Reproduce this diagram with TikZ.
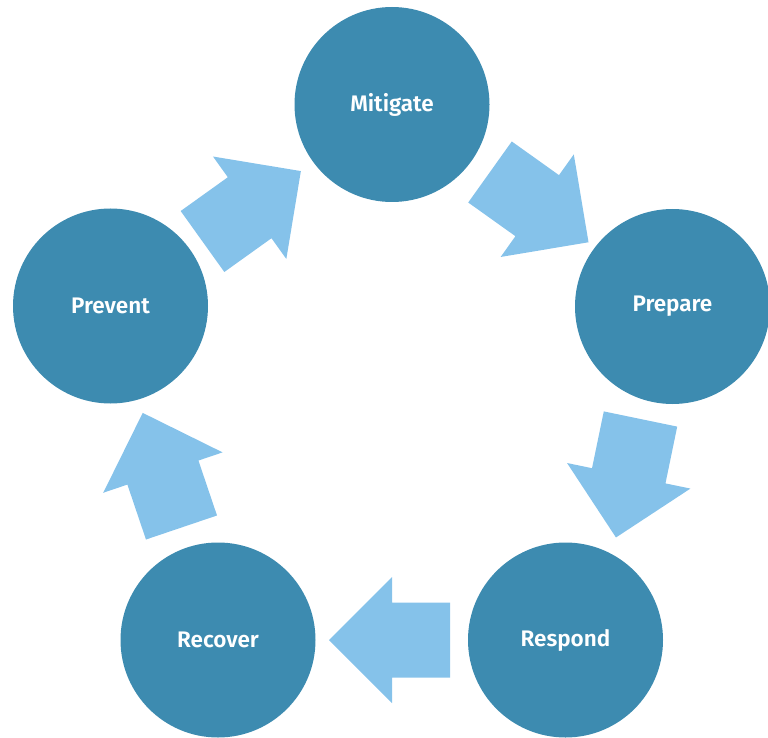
\documentclass[tikz,border=0pt]{standalone}
\usepackage{fontspec}
\setmainfont{Fira Sans}[BoldFont={Fira Sans SemiBold}]
\definecolor{circ}{RGB}{61,139,176}
\definecolor{arr}{RGB}{133,194,234}
\tikzset{
  stage/.style={circle, fill=circ, text=white, minimum size=195pt, inner sep=0pt,
    font=\bfseries\fontsize{22.5}{26}\selectfont},
  blockarrow/.pic={\fill[arr] (0,-37.5) -- (58,-37.5) -- (58,-63) -- (121,0)
    -- (58,63) -- (58,37.5) -- (0,37.5) -- cycle;}
}
\begin{document}
\begin{tikzpicture}[x=1pt,y=-1pt]
\useasboundingbox (0,0) rectangle (768,738);
\node[stage] (mit) at (392,104.5) {Mitigate};
\node[stage] (pre) at (672.5,306.5) {Prepare};
\node[stage] (res) at (565.5,640) {Respond};
\node[stage] (rec) at (218,640) {Recover};
\node[stage] (prv) at (110.5,306) {Prevent};
\coordinate (a1) at (202.5,241.5);
\coordinate (a2) at (490,172);
\coordinate (a3) at (640.5,419);
\coordinate (a4) at (450,640);
\coordinate (a5) at (181.5,527.5);
\pic[rotate=35.6] at (a1) {blockarrow};
\pic[rotate=-35.5] at (a2) {blockarrow};
\pic[rotate=-101.7] at (a3) {blockarrow};
\pic[rotate=180] at (a4) {blockarrow};
\pic[rotate=108.7] at (a5) {blockarrow};
\end{tikzpicture}
\end{document}
